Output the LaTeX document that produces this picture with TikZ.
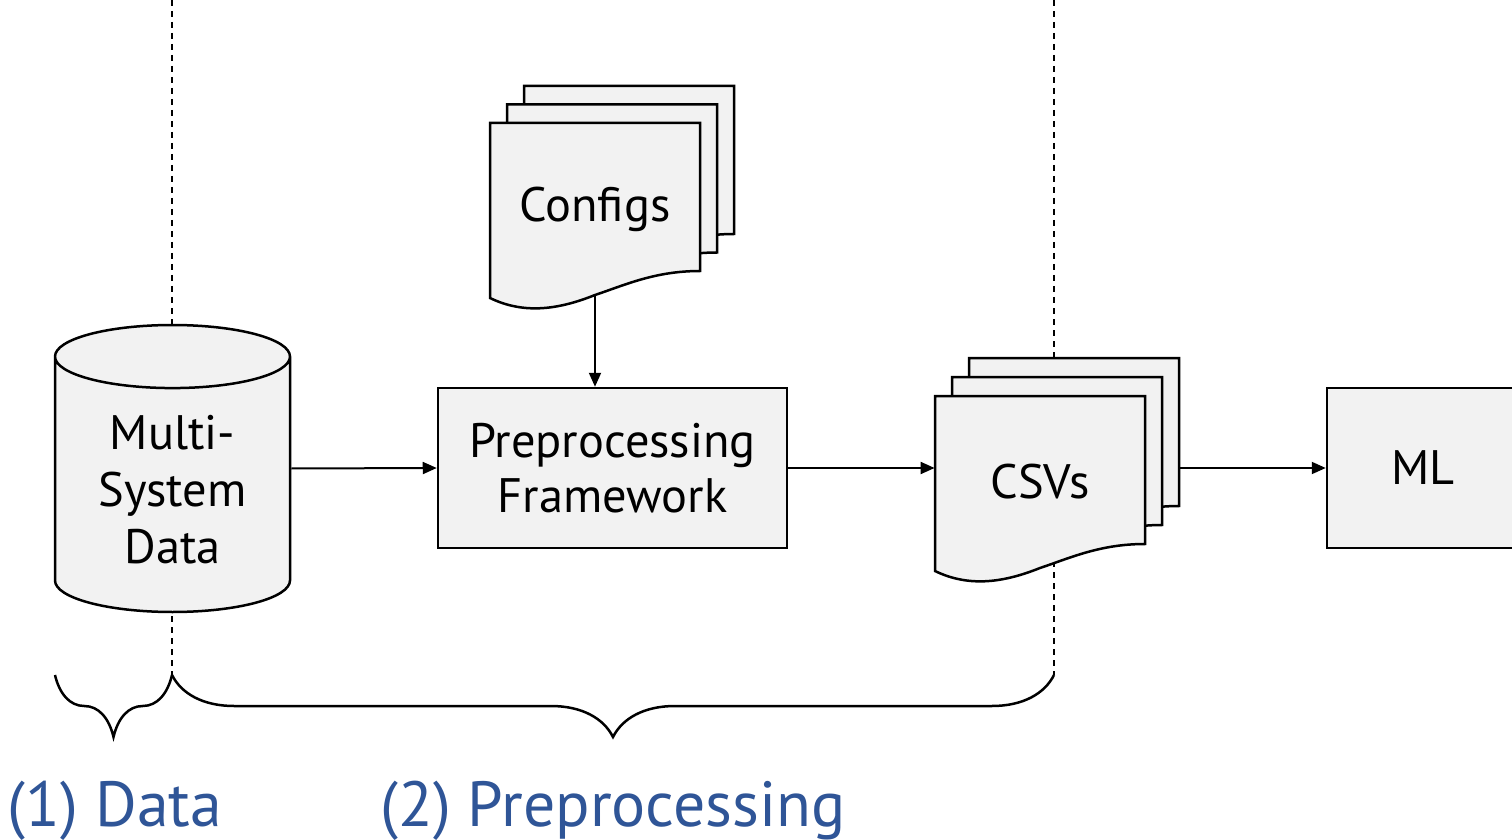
\documentclass[tikz,border=0pt]{standalone}
\usepackage{fontspec}
\setmainfont{PT Sans}
\usetikzlibrary{shapes.geometric,arrows.meta,decorations.pathreplacing}
\definecolor{boxgray}{RGB}{242,242,242}
\definecolor{stageblue}{RGB}{47,85,151}
\tikzstyle{block} = [draw=black, fill=boxgray, line width=1.25pt,
    rectangle, minimum height=80pt, align=center, font=\fontsize{24.2}{27.5}\selectfont]
\tikzstyle{store} = [draw=black, fill=boxgray, line width=1.25pt,
    cylinder, shape border rotate=90, aspect=0.39, minimum width=117.5pt,
    minimum height=143.5pt, align=center, font=\fontsize{24.2}{28.5}\selectfont]
\tikzstyle{sheet} = [draw=black, fill=boxgray, line width=1.25pt]
\tikzstyle{doclabel} = [minimum width=105pt, minimum height=86pt, inner sep=0pt,
    font=\fontsize{24.2}{27.5}\selectfont]
\tikzstyle{flow} = [-{Triangle[length=7pt,width=6pt]}, line width=1pt]
\tikzstyle{divider} = [dash pattern=on 3pt off 2.5pt, line width=0.75pt]
\tikzstyle{stage} = [decorate, decoration={brace, mirror, amplitude=31pt}, line width=1.25pt]
\tikzstyle{stagelabel} = [text=stageblue, font=\fontsize{31.9}{36}\selectfont, anchor=base]
\newcommand{\docsheet}[2]{%
    \begin{scope}[shift={(#1,#2)}]
        \filldraw[sheet] (0,0) -- (210,0) -- (210,148)
            .. controls (165,148) and (135,162) .. (105,172)
            .. controls (70,186) and (35,192) .. (0,175) -- cycle;
    \end{scope}}

\begin{document}
\begin{tikzpicture}[x=0.5pt, y=-0.5pt]
                \useasboundingbox (0,0) rectangle (1512,840);
                \coordinate (cut1) at (172,0);
                \coordinate (cut2) at (1054,0);
                \coordinate (b0) at (55,675);
                \coordinate (b1) at (172,675);
                \coordinate (b2) at (1054,675);
                \draw[divider] (cut1) -- (b1);
                \draw[divider] (cut2) -- (b2);

                \node[store, anchor=shape center] (data) at (172.5,468.5) {Multi-\\System\\Data};
                \node[block, minimum width=174.5pt] (pp) at (612.5,468) {Preprocessing\\Framework};
                \node[block, minimum width=96pt] (ml) at (1423,468) {ML};

                \docsheet{524}{86}
                \docsheet{507}{104.5}
                \docsheet{490}{123}
                \node[doclabel] (cfg) at (595,209) {Configs};

                \docsheet{969}{358}
                \docsheet{952}{377}
                \docsheet{935}{396}
                \node[doclabel] (csv) at (1040,482) {CSVs};
                \coordinate (csvout) at (1179,468);

                \draw[flow] (data.shape center -| data.east) -- (pp.west);
                \draw[flow] (cfg.south) -- (cfg.south |- pp.north);
                \draw[flow] (pp.east) -- (pp.east -| csv.west);
                \draw[flow] (csvout) -- (ml.west);

                \draw[stage] (b0) -- (b1);
                \draw[stage] (b1) -- (b2);
                \node[stagelabel] (l1) at (115,826) {(1) Data};
                \node[stagelabel] (l2) at (613,826) {(2) Preprocessing};
\end{tikzpicture}
\end{document}
